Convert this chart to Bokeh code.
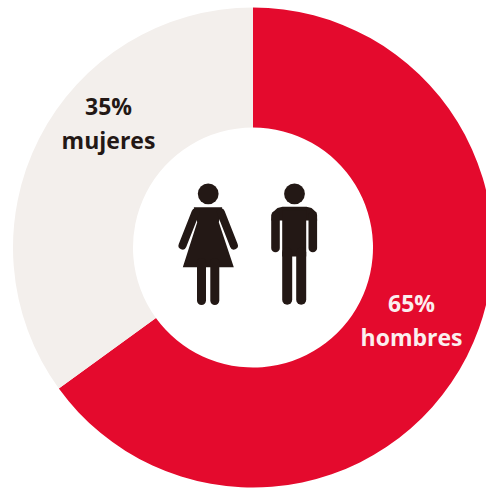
from math import pi
from bokeh.core.properties import value
from bokeh.embed import file_html
from bokeh.models import Range1d
from bokeh.plotting import figure
from bokeh.resources import INLINE

# Gender split shown on the ring
categories = ["hombres", "mujeres"]
shares = [65, 35]
share_colors = ["#E40A2D", "#F3EFEC"]
label_colors = ["#FBEFEF", "#231815"]
label_anchor = [(411, 302), (108, 105)]
INK = "#231815"

W, H = 486, 488
CX, CY, R_OUT, R_IN = 252.5, 247, 240, 120

p = figure(width=W, height=H, output_backend="svg", toolbar_location=None,
           x_range=Range1d(0, W), y_range=Range1d(H, 0), min_border=0,
           background_fill_color="white", border_fill_color="white",
           outline_line_color=None)
p.axis.visible = False
p.grid.visible = False

# Ring segments run clockwise from twelve o'clock
start, starts, ends = pi / 2, [], []
for s in shares:
    starts.append(start)
    start -= 2 * pi * s / sum(shares)
    ends.append(start)
p.annular_wedge(x=CX, y=CY, inner_radius=R_IN, outer_radius=R_OUT,
                start_angle=starts, end_angle=ends, direction="clock",
                fill_color=share_colors, line_color=None)

# Labels
for cat, s, col, (lx, ly) in zip(categories, shares, label_colors, label_anchor):
    for txt, dy in ((f"{s}%", 0), (cat, 34)):
        p.text(x=[lx], y=[ly + dy], text=[txt], text_color=col,
               text_font=value("Open Sans"), text_font_style="bold",
               text_font_size="23px", text_align="center",
               text_baseline="middle")


def thick(xs, ys, w):
    p.line(xs, ys, line_width=w, line_color=INK, line_cap="round", line_join="round")


# Woman pictogram
p.circle(x=[207.7], y=[193.3], radius=10.4, fill_color=INK, line_color=None)
p.patch([193.3, 221.7, 218.3, 233.3, 182.3, 196.7],
        [206.7, 206.7, 221.7, 266.7, 266.7, 221.7],
        fill_color=INK, line_color=None)
thick([195, 182], [212, 245], 8)
thick([220.4, 233.4], [212, 245], 8)
thick([201, 201], [262, 300], 9)
thick([214.3, 214.3], [262, 300], 9)

# Man pictogram
p.circle(x=[294], y=[193.3], radius=10.4, fill_color=INK, line_color=None)
p.patch([270.7, 272, 277, 282, 306, 311, 316, 316.7],
        [220, 212, 207.5, 206.3, 206.3, 207.5, 212, 220],
        fill_color=INK, line_color=None)
p.patch([281.7, 305.7, 305.7, 281.7], [210, 210, 256, 256],
        fill_color=INK, line_color=None)
thick([275, 275], [215, 247.5], 8.6)
thick([312.3, 312.3], [215, 247.5], 8.6)
thick([286.7, 286.7], [252, 299.3], 10)
thick([300.7, 300.7], [252, 299.3], 10)

open("out.html", "w").write(file_html(p, INLINE))
